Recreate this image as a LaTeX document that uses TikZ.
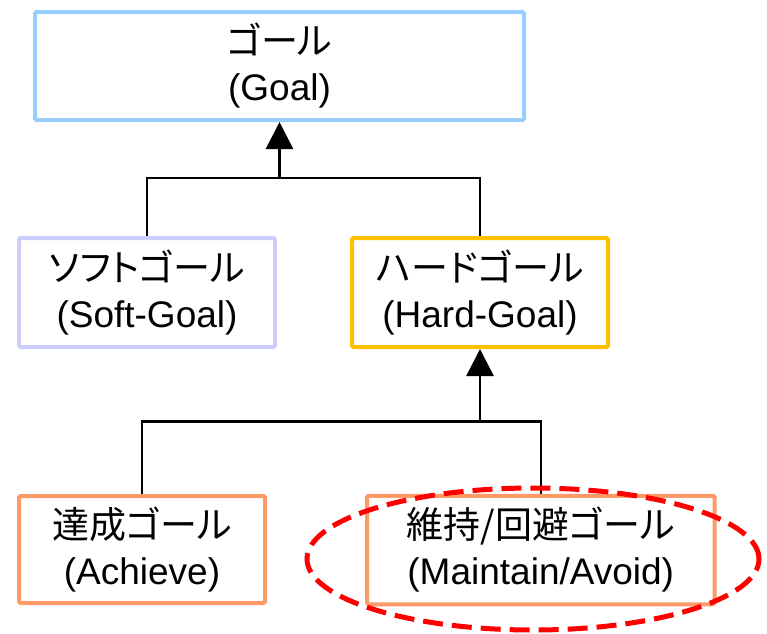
\documentclass[tikz,border=0pt]{standalone}
\usepackage{fontspec}
\setmainfont{Liberation Sans}
\newfontfamily\jpfont[RawFeature={+palt}]{Noto Sans CJK JP}
\usetikzlibrary{arrows.meta,shapes.geometric}
\definecolor{goalblue}{RGB}{153,204,255}
\definecolor{softlav}{RGB}{204,204,255}
\definecolor{hardgold}{RGB}{255,192,0}
\definecolor{subor}{RGB}{255,153,102}
\tikzset{
  goalbox/.style={draw=#1, line width=4pt, rounded corners=1.5pt, fill=white, align=center, inner sep=0pt,
    font=\fontsize{37}{46}\selectfont},
  conn/.style={line width=2.5pt, black},
  tri/.style={-{Triangle[width=27pt,length=27pt]}},
}
\newcommand{\jp}[1]{{\jpfont #1}}
\begin{document}
\begin{tikzpicture}[x=1pt,y=-1pt]
\useasboundingbox (0,0) rectangle (767,633);
\node[goalbox=goalblue, minimum width=489pt, minimum height=108pt] (goal) at (279.5,66) {\jp{ゴール}\\(Goal)};
\node[goalbox=softlav, minimum width=256pt, minimum height=109pt] (soft) at (147,292.5) {\jp{ソフトゴール}\\(Soft-Goal)};
\node[goalbox=hardgold, minimum width=256pt, minimum height=109pt] (hard) at (480,292.5) {\jp{ハードゴール}\\(Hard-Goal)};
\node[goalbox=subor, minimum width=246pt, minimum height=107pt] (ach) at (142,549.5) {\jp{達成ゴール}\\(Achieve)};
\node[goalbox=subor, minimum width=347.5pt, minimum height=108.5pt] (mnt) at (540.75,550) {\jp{維持/回避ゴール}\\(Maintain/Avoid)};
\coordinate (j1) at (279.5,178);
\coordinate (j2) at (480,421.5);
\draw[conn] (soft.north) |- (j1) -| (hard.north);
\draw[conn, tri] (j1) -- (goal.south);
\draw[conn] (ach.north) |- (j2) -| (mnt.north);
\draw[conn, tri] (j2) -- (hard.south);
\node[draw=red, line width=5pt, dash pattern=on 20pt off 9pt, ellipse, inner sep=0pt, minimum width=452pt, minimum height=142pt] (hl) at (533,559) {};
\end{tikzpicture}
\end{document}
